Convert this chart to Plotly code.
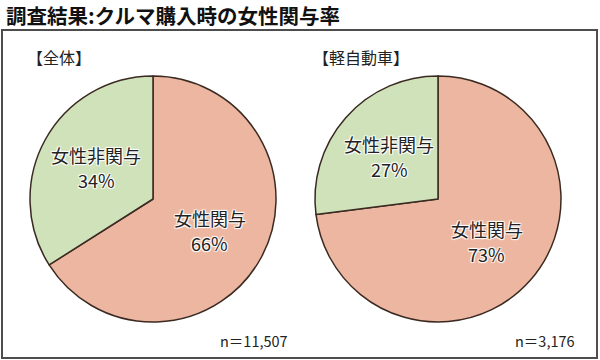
import math
import plotly.graph_objects as go

# Data
labels = ["女性関与", "女性非関与"]
all_values = [66, 34]
kei_values = [73, 27]
panel_titles = ["【全体】", "【軽自動車】"]
sample_sizes = ["n＝11,507", "n＝3,176"]
title_text = "調査結果:クルマ購入時の女性関与率"

W, H = 600, 360
FONT = "Noto Sans CJK JP"
colors = ["#EDB6A0", "#CFE2BA"]
SHADOW = "-1px -1px 1px #fff, 1px -1px 1px #fff, -1px 1px 1px #fff, 1px 1px 1px #fff"

def px_x(v):
    return v / W

def px_y(v):  # from top
    return 1 - v / H

R = 123
LABEL_R = 65
LINE_GAP = 12.5
centers = [(153, 199), (438, 199)]
series = [all_values, kei_values]

fig = go.Figure()
annotations = []
for (cx, cy), vals in zip(centers, series):
    fig.add_trace(go.Pie(
        labels=labels,
        values=vals,
        sort=False,
        direction="clockwise",
        rotation=0,
        marker=dict(colors=colors, line=dict(color="#3a2a22", width=1.5)),
        textinfo="none",
        hoverinfo="skip",
        showlegend=False,
        domain=dict(x=[px_x(cx - R), px_x(cx + R)], y=[px_y(cy + R), px_y(cy - R)]),
    ))
    total = sum(vals)
    cum = 0
    for lab, v in zip(labels, vals):
        mid = (cum + v / 2) / total * 2 * math.pi
        cum += v
        lx = cx + LABEL_R * math.sin(mid)
        ly = cy - LABEL_R * math.cos(mid)
        for txt, off in ((lab, -LINE_GAP), (f"{v}%", LINE_GAP)):
            annotations.append(dict(
                text=txt, x=px_x(lx), y=px_y(ly + off), xanchor="center", yanchor="middle",
                font=dict(family=FONT, size=18, color="#222222", shadow=SHADOW)))

annotations += [
    dict(text=title_text, x=px_x(4), y=px_y(15), xanchor="left", yanchor="middle",
         font=dict(family=FONT, size=20.5, color="#111111", weight="bold")),
    dict(text=panel_titles[0], x=px_x(25), y=px_y(57), xanchor="left", yanchor="middle",
         font=dict(family=FONT, size=16, color="#222222")),
    dict(text=panel_titles[1], x=px_x(311), y=px_y(57), xanchor="left", yanchor="middle",
         font=dict(family=FONT, size=16, color="#222222")),
    dict(text=sample_sizes[0], x=px_x(290), y=px_y(340), xanchor="right", yanchor="middle",
         font=dict(family=FONT, size=14.5, color="#222222")),
    dict(text=sample_sizes[1], x=px_x(577), y=px_y(340), xanchor="right", yanchor="middle",
         font=dict(family=FONT, size=14.5, color="#222222")),
]
for a in annotations:
    a.update(xref="paper", yref="paper", showarrow=False)

fig.update_layout(
    width=W, height=H,
    margin=dict(l=0, r=0, t=0, b=0),
    paper_bgcolor="white",
    plot_bgcolor="white",
    annotations=annotations,
    shapes=[dict(type="rect", xref="paper", yref="paper",
                 x0=px_x(2), x1=px_x(597), y0=px_y(358), y1=px_y(30),
                 line=dict(color="#4d4d4d", width=2), fillcolor="rgba(0,0,0,0)",
                 layer="above")],
)

fig.write_html("out.html", config={"displayModeBar": False},
               post_script="document.body.style.margin='0';document.body.style.overflow='hidden';")
